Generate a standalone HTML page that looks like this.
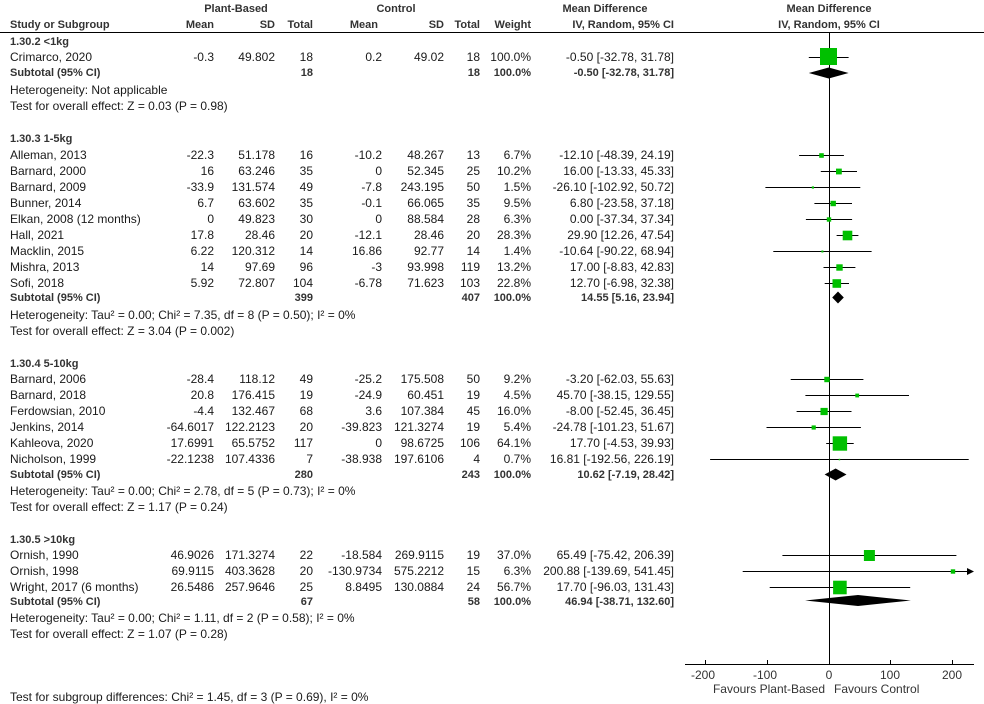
<!DOCTYPE html>
<html><head><meta charset="utf-8"><style>
html,body{margin:0;padding:0;background:#fff}
svg{display:block}
text{font-family:"Liberation Sans",Arial,sans-serif;font-size:12px;fill:#1a1a1a}
.b{font-weight:bold;fill:#333;font-size:11px}
.e{text-anchor:end}
.m{text-anchor:middle}
</style></head><body>
<svg width="984" height="704" viewBox="0 0 984 704" xmlns="http://www.w3.org/2000/svg">
<text class="b m" x="236" y="12">Plant-Based</text>
<text class="b m" x="396" y="12">Control</text>
<text class="b m" x="605" y="12">Mean Difference</text>
<text class="b m" x="829" y="12">Mean Difference</text>
<text class="b" x="10" y="28">Study or Subgroup</text>
<text class="b e" x="214" y="28">Mean</text>
<text class="b e" x="275" y="28">SD</text>
<text class="b e" x="313" y="28">Total</text>
<text class="b e" x="378" y="28">Mean</text>
<text class="b e" x="444" y="28">SD</text>
<text class="b e" x="480" y="28">Total</text>
<text class="b e" x="531" y="28">Weight</text>
<text class="b e" x="674" y="28">IV, Random, 95% CI</text>
<text class="b m" x="829" y="28">IV, Random, 95% CI</text>
<line x1="0" y1="32.5" x2="984" y2="32.5" stroke="#000"/>
<line x1="829.5" y1="33" x2="829.5" y2="664" stroke="#000"/>

<g id="t">
<text class="b" x="10" y="45">1.30.2 &lt;1kg</text>
<text x="10" y="61">Crimarco, 2020</text><text class="e" x="214" y="61">-0.3</text><text class="e" x="275" y="61">49.802</text><text class="e" x="313" y="61">18</text><text class="e" x="382" y="61">0.2</text><text class="e" x="444" y="61">49.02</text><text class="e" x="480" y="61">18</text><text class="e" x="531" y="61">100.0%</text><text class="e" x="674" y="61">-0.50 [-32.78, 31.78]</text>
<text class="b" x="10" y="76">Subtotal (95% CI)</text><text class="b e" x="313" y="76">18</text><text class="b e" x="480" y="76">18</text><text class="b e" x="531" y="76">100.0%</text><text class="b e" x="674" y="76">-0.50 [-32.78, 31.78]</text>
<text x="10" y="94">Heterogeneity: Not applicable</text>
<text x="10" y="110">Test for overall effect: Z = 0.03 (P = 0.98)</text>

<text class="b" x="10" y="142">1.30.3 1-5kg</text>
<text x="10" y="159">Alleman, 2013</text><text class="e" x="214" y="159">-22.3</text><text class="e" x="275" y="159">51.178</text><text class="e" x="313" y="159">16</text><text class="e" x="382" y="159">-10.2</text><text class="e" x="444" y="159">48.267</text><text class="e" x="480" y="159">13</text><text class="e" x="531" y="159">6.7%</text><text class="e" x="674" y="159">-12.10 [-48.39, 24.19]</text>
<text x="10" y="175">Barnard, 2000</text><text class="e" x="214" y="175">16</text><text class="e" x="275" y="175">63.246</text><text class="e" x="313" y="175">35</text><text class="e" x="382" y="175">0</text><text class="e" x="444" y="175">52.345</text><text class="e" x="480" y="175">25</text><text class="e" x="531" y="175">10.2%</text><text class="e" x="674" y="175">16.00 [-13.33, 45.33]</text>
<text x="10" y="191">Barnard, 2009</text><text class="e" x="214" y="191">-33.9</text><text class="e" x="275" y="191">131.574</text><text class="e" x="313" y="191">49</text><text class="e" x="382" y="191">-7.8</text><text class="e" x="444" y="191">243.195</text><text class="e" x="480" y="191">50</text><text class="e" x="531" y="191">1.5%</text><text class="e" x="674" y="191">-26.10 [-102.92, 50.72]</text>
<text x="10" y="207">Bunner, 2014</text><text class="e" x="214" y="207">6.7</text><text class="e" x="275" y="207">63.602</text><text class="e" x="313" y="207">35</text><text class="e" x="382" y="207">-0.1</text><text class="e" x="444" y="207">66.065</text><text class="e" x="480" y="207">35</text><text class="e" x="531" y="207">9.5%</text><text class="e" x="674" y="207">6.80 [-23.58, 37.18]</text>
<text x="10" y="223">Elkan, 2008 (12 months)</text><text class="e" x="214" y="223">0</text><text class="e" x="275" y="223">49.823</text><text class="e" x="313" y="223">30</text><text class="e" x="382" y="223">0</text><text class="e" x="444" y="223">88.584</text><text class="e" x="480" y="223">28</text><text class="e" x="531" y="223">6.3%</text><text class="e" x="674" y="223">0.00 [-37.34, 37.34]</text>
<text x="10" y="239">Hall, 2021</text><text class="e" x="214" y="239">17.8</text><text class="e" x="275" y="239">28.46</text><text class="e" x="313" y="239">20</text><text class="e" x="382" y="239">-12.1</text><text class="e" x="444" y="239">28.46</text><text class="e" x="480" y="239">20</text><text class="e" x="531" y="239">28.3%</text><text class="e" x="674" y="239">29.90 [12.26, 47.54]</text>
<text x="10" y="255">Macklin, 2015</text><text class="e" x="214" y="255">6.22</text><text class="e" x="275" y="255">120.312</text><text class="e" x="313" y="255">14</text><text class="e" x="382" y="255">16.86</text><text class="e" x="444" y="255">92.77</text><text class="e" x="480" y="255">14</text><text class="e" x="531" y="255">1.4%</text><text class="e" x="674" y="255">-10.64 [-90.22, 68.94]</text>
<text x="10" y="271">Mishra, 2013</text><text class="e" x="214" y="271">14</text><text class="e" x="275" y="271">97.69</text><text class="e" x="313" y="271">96</text><text class="e" x="382" y="271">-3</text><text class="e" x="444" y="271">93.998</text><text class="e" x="480" y="271">119</text><text class="e" x="531" y="271">13.2%</text><text class="e" x="674" y="271">17.00 [-8.83, 42.83]</text>
<text x="10" y="287">Sofi, 2018</text><text class="e" x="214" y="287">5.92</text><text class="e" x="275" y="287">72.807</text><text class="e" x="313" y="287">104</text><text class="e" x="382" y="287">-6.78</text><text class="e" x="444" y="287">71.623</text><text class="e" x="480" y="287">103</text><text class="e" x="531" y="287">22.8%</text><text class="e" x="674" y="287">12.70 [-6.98, 32.38]</text>
<text class="b" x="10" y="301">Subtotal (95% CI)</text><text class="b e" x="313" y="301">399</text><text class="b e" x="480" y="301">407</text><text class="b e" x="531" y="301">100.0%</text><text class="b e" x="674" y="301">14.55 [5.16, 23.94]</text>
<text x="10" y="319">Heterogeneity: Tau² = 0.00; Chi² = 7.35, df = 8 (P = 0.50); I² = 0%</text>
<text x="10" y="335">Test for overall effect: Z = 3.04 (P = 0.002)</text>

<text class="b" x="10" y="367">1.30.4 5-10kg</text>
<text x="10" y="383">Barnard, 2006</text><text class="e" x="214" y="383">-28.4</text><text class="e" x="275" y="383">118.12</text><text class="e" x="313" y="383">49</text><text class="e" x="382" y="383">-25.2</text><text class="e" x="444" y="383">175.508</text><text class="e" x="480" y="383">50</text><text class="e" x="531" y="383">9.2%</text><text class="e" x="674" y="383">-3.20 [-62.03, 55.63]</text>
<text x="10" y="399">Barnard, 2018</text><text class="e" x="214" y="399">20.8</text><text class="e" x="275" y="399">176.415</text><text class="e" x="313" y="399">19</text><text class="e" x="382" y="399">-24.9</text><text class="e" x="444" y="399">60.451</text><text class="e" x="480" y="399">19</text><text class="e" x="531" y="399">4.5%</text><text class="e" x="674" y="399">45.70 [-38.15, 129.55]</text>
<text x="10" y="415">Ferdowsian, 2010</text><text class="e" x="214" y="415">-4.4</text><text class="e" x="275" y="415">132.467</text><text class="e" x="313" y="415">68</text><text class="e" x="382" y="415">3.6</text><text class="e" x="444" y="415">107.384</text><text class="e" x="480" y="415">45</text><text class="e" x="531" y="415">16.0%</text><text class="e" x="674" y="415">-8.00 [-52.45, 36.45]</text>
<text x="10" y="431">Jenkins, 2014</text><text class="e" x="214" y="431">-64.6017</text><text class="e" x="275" y="431">122.2123</text><text class="e" x="313" y="431">20</text><text class="e" x="382" y="431">-39.823</text><text class="e" x="444" y="431">121.3274</text><text class="e" x="480" y="431">19</text><text class="e" x="531" y="431">5.4%</text><text class="e" x="674" y="431">-24.78 [-101.23, 51.67]</text>
<text x="10" y="447">Kahleova, 2020</text><text class="e" x="214" y="447">17.6991</text><text class="e" x="275" y="447">65.5752</text><text class="e" x="313" y="447">117</text><text class="e" x="382" y="447">0</text><text class="e" x="444" y="447">98.6725</text><text class="e" x="480" y="447">106</text><text class="e" x="531" y="447">64.1%</text><text class="e" x="674" y="447">17.70 [-4.53, 39.93]</text>
<text x="10" y="463">Nicholson, 1999</text><text class="e" x="214" y="463">-22.1238</text><text class="e" x="275" y="463">107.4336</text><text class="e" x="313" y="463">7</text><text class="e" x="382" y="463">-38.938</text><text class="e" x="444" y="463">197.6106</text><text class="e" x="480" y="463">4</text><text class="e" x="531" y="463">0.7%</text><text class="e" x="674" y="463">16.81 [-192.56, 226.19]</text>
<text class="b" x="10" y="478">Subtotal (95% CI)</text><text class="b e" x="313" y="478">280</text><text class="b e" x="480" y="478">243</text><text class="b e" x="531" y="478">100.0%</text><text class="b e" x="674" y="478">10.62 [-7.19, 28.42]</text>
<text x="10" y="495">Heterogeneity: Tau² = 0.00; Chi² = 2.78, df = 5 (P = 0.73); I² = 0%</text>
<text x="10" y="511">Test for overall effect: Z = 1.17 (P = 0.24)</text>

<text class="b" x="10" y="543">1.30.5 &gt;10kg</text>
<text x="10" y="559">Ornish, 1990</text><text class="e" x="214" y="559">46.9026</text><text class="e" x="275" y="559">171.3274</text><text class="e" x="313" y="559">22</text><text class="e" x="382" y="559">-18.584</text><text class="e" x="444" y="559">269.9115</text><text class="e" x="480" y="559">19</text><text class="e" x="531" y="559">37.0%</text><text class="e" x="674" y="559">65.49 [-75.42, 206.39]</text>
<text x="10" y="575">Ornish, 1998</text><text class="e" x="214" y="575">69.9115</text><text class="e" x="275" y="575">403.3628</text><text class="e" x="313" y="575">20</text><text class="e" x="382" y="575">-130.9734</text><text class="e" x="444" y="575">575.2212</text><text class="e" x="480" y="575">15</text><text class="e" x="531" y="575">6.3%</text><text class="e" x="674" y="575">200.88 [-139.69, 541.45]</text>
<text x="10" y="591">Wright, 2017 (6 months)</text><text class="e" x="214" y="591">26.5486</text><text class="e" x="275" y="591">257.9646</text><text class="e" x="313" y="591">25</text><text class="e" x="382" y="591">8.8495</text><text class="e" x="444" y="591">130.0884</text><text class="e" x="480" y="591">24</text><text class="e" x="531" y="591">56.7%</text><text class="e" x="674" y="591">17.70 [-96.03, 131.43]</text>
<text class="b" x="10" y="605">Subtotal (95% CI)</text><text class="b e" x="313" y="605">67</text><text class="b e" x="480" y="605">58</text><text class="b e" x="531" y="605">100.0%</text><text class="b e" x="674" y="605">46.94 [-38.71, 132.60]</text>
<text x="10" y="622">Heterogeneity: Tau² = 0.00; Chi² = 1.11, df = 2 (P = 0.58); I² = 0%</text>
<text x="10" y="638">Test for overall effect: Z = 1.07 (P = 0.28)</text>
<text x="10" y="701">Test for subgroup differences: Chi² = 1.45, df = 3 (P = 0.69), I² = 0%</text>
</g>

<g stroke="#000" stroke-width="1">
<line x1="808.8" y1="57.5" x2="848.6" y2="57.5"/>
<line x1="799.1" y1="155.5" x2="843.9" y2="155.5"/>
<line x1="820.8" y1="171.5" x2="857" y2="171.5"/>
<line x1="765.4" y1="187.5" x2="860.3" y2="187.5"/>
<line x1="814.4" y1="203.5" x2="852" y2="203.5"/>
<line x1="805.9" y1="219.5" x2="852.1" y2="219.5"/>
<line x1="836.6" y1="235.5" x2="858.4" y2="235.5"/>
<line x1="773.3" y1="251.5" x2="871.6" y2="251.5"/>
<line x1="823.5" y1="267.5" x2="855.4" y2="267.5"/>
<line x1="824.7" y1="283.5" x2="849" y2="283.5"/>
<line x1="790.7" y1="379.5" x2="863.4" y2="379.5"/>
<line x1="805.4" y1="395.5" x2="909" y2="395.5"/>
<line x1="796.6" y1="411.5" x2="851.5" y2="411.5"/>
<line x1="766.5" y1="427.5" x2="860.9" y2="427.5"/>
<line x1="826.2" y1="443.5" x2="853.7" y2="443.5"/>
<line x1="710.1" y1="459.5" x2="968.7" y2="459.5"/>
<line x1="782.4" y1="555.5" x2="956.4" y2="555.5"/>
<line x1="742.7" y1="571.5" x2="970" y2="571.5"/>
<line x1="769.7" y1="587.5" x2="910.2" y2="587.5"/>
</g>
<polygon points="974,571.5 967,568 967,575" fill="#000"/>
<g fill="#00c000">
<rect x="820" y="48" width="17" height="17"/>
<rect x="819.2" y="153.2" width="4.6" height="4.6"/>
<rect x="836" y="168.6" width="5.8" height="5.8"/>
<rect x="811.8" y="186.4" width="2.2" height="2.2"/>
<rect x="830.5" y="200.8" width="5.4" height="5.4"/>
<rect x="826.8" y="217.3" width="4.4" height="4.4"/>
<rect x="842.7" y="230.7" width="9.6" height="9.6"/>
<rect x="821.4" y="250.5" width="2" height="2"/>
<rect x="836.3" y="264.3" width="6.4" height="6.4"/>
<rect x="832.5" y="279.2" width="8.6" height="8.6"/>
<rect x="824.3" y="376.8" width="5.4" height="5.4"/>
<rect x="855.3" y="393.6" width="3.8" height="3.8"/>
<rect x="820.5" y="407.9" width="7.2" height="7.2"/>
<rect x="811.6" y="425.4" width="4.2" height="4.2"/>
<rect x="832.7" y="436.3" width="14.4" height="14.4"/>
<rect x="838.7" y="458.8" width="1.5" height="1.5"/>
<rect x="863.9" y="550" width="11" height="11"/>
<rect x="950.8" y="569.3" width="4.4" height="4.4"/>
<rect x="833.1" y="580.7" width="13.6" height="13.6"/>
</g>
<g fill="#000">
<polygon points="808.8,73 828.7,67.5 848.6,73 828.7,78.5"/>
<polygon points="832.2,297.5 838,291.5 843.8,297.5 838,303.5"/>
<polygon points="824.6,474.5 835.6,468.5 846.5,474.5 835.6,480.5"/>
<polygon points="805.1,600.5 858,595 910.9,600.5 858,606"/>
</g>
<line x1="685" y1="664.5" x2="974" y2="664.5" stroke="#000"/>
<g stroke="#000">
<line x1="705.5" y1="660" x2="705.5" y2="665"/>
<line x1="767.5" y1="660" x2="767.5" y2="665"/>
<line x1="829.5" y1="660" x2="829.5" y2="665"/>
<line x1="890.5" y1="660" x2="890.5" y2="665"/>
<line x1="952.5" y1="660" x2="952.5" y2="665"/>
</g>
<text class="m" x="703" y="679" style="fill:#333">-200</text>
<text class="m" x="765" y="679" style="fill:#333">-100</text>
<text class="m" x="829" y="679" style="fill:#333">0</text>
<text class="m" x="890" y="679" style="fill:#333">100</text>
<text class="m" x="952" y="679" style="fill:#333">200</text>
<text class="e" x="825" y="693" style="fill:#333">Favours Plant-Based</text>
<text x="834" y="693" style="fill:#333">Favours Control</text>
</svg>
</body></html>
